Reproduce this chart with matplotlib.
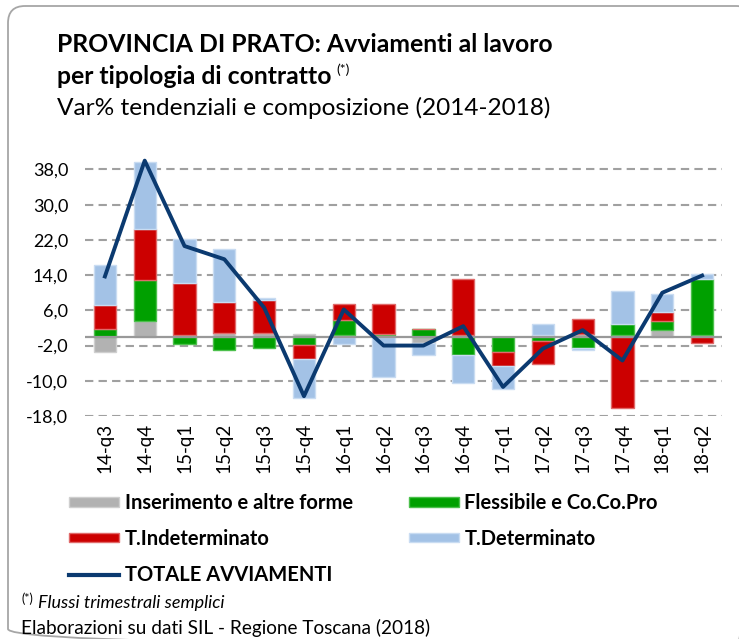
import matplotlib
matplotlib.use("Agg")
import matplotlib.pyplot as plt
import numpy as np
from matplotlib.patches import Patch, FancyBboxPatch
from matplotlib.lines import Line2D
from matplotlib.ticker import FuncFormatter

plt.rcParams["font.family"] = ["Lato", "DejaVu Sans"]

# quarters
trimestri = ["14-q3", "14-q4", "15-q1", "15-q2", "15-q3", "15-q4", "16-q1", "16-q2",
             "16-q3", "16-q4", "17-q1", "17-q2", "17-q3", "17-q4", "18-q1", "18-q2"]

# contributions to the yearly change, by contract type
inserimento = [-3.4, 3.5, 0.4, 0.9, 0.9, 0.6, 0.3, 0.4, -1.5, 0.3, 0.0, 0.3, 0.7, 0.3, 1.5, 0.3]
flessibile = [1.8, 9.3, -1.6, -3.1, -2.6, -1.9, 3.4, 0.3, 1.8, -4.2, -3.5, -0.9, -2.6, 2.7, 2.1, 12.9]
indeterminato = [5.4, 11.6, 11.8, 7.0, 7.4, -3.1, 3.8, 6.8, 0.0, 12.9, -3.2, -5.2, 3.4, -16.2, 2.0, -1.4]
determinato = [9.0, 15.4, 10.1, 12.1, 0.6, -8.9, -1.6, -9.1, -2.7, -6.3, -5.1, 2.5, -0.4, 7.5, 4.0, 1.0]
totale = [13.7, 40.0, 20.6, 17.6, 6.6, -13.5, 6.2, -2.0, -2.0, 2.4, -11.4, -2.7, 1.5, -5.4, 10.0, 13.9]

serie = [
    ("Inserimento e altre forme", inserimento, "#b2b2b2", "#cfcfcf"),
    ("Flessibile e Co.Co.Pro", flessibile, "#00a000", "#4cc04c"),
    ("T.Indeterminato", indeterminato, "#cc0000", "#e06a6a"),
    ("T.Determinato", determinato, "#a3c2e6", "#c9dcf2"),
]
col_linea = "#0b3a70"

W, H = 739, 639
fig = plt.figure(figsize=(W / 100, H / 100), dpi=100)

# background layer in pixel units, for the rounded frame
bg = fig.add_axes([0, 0, 1, 1], zorder=-1)
bg.set_xlim(0, W)
bg.set_ylim(H, 0)
bg.axis("off")
bg.add_patch(FancyBboxPatch((8, 6), 745, 640, boxstyle="round,pad=0,rounding_size=17",
                            fill=False, edgecolor="#a6a6a6", linewidth=1.3))

ax = fig.add_axes([85 / W, 1 - 416 / H, 637 / W, (416 - 158) / H])

x = np.arange(len(trimestri))
pos_base = np.zeros(len(x))
neg_base = np.zeros(len(x))
for nome, valori, col, bordo in serie:
    v = np.array(valori)
    base = np.where(v >= 0, pos_base, neg_base)
    ax.bar(x, v, width=0.56, bottom=base, color=col, edgecolor=bordo,
           linewidth=1.0, zorder=2)
    pos_base += np.where(v >= 0, v, 0)
    neg_base += np.where(v < 0, v, 0)

ax.plot(x, totale, color=col_linea, linewidth=2.8, zorder=4)

ax.set_xlim(-0.5, len(x) - 0.5)
ax.set_ylim(-18, 40.6)
ax.set_yticks(np.arange(-18, 39, 8))
ax.yaxis.set_major_formatter(FuncFormatter(lambda v, p: f"{v:.1f}".replace(".", ",")))
ax.yaxis.grid(True, linestyle=(0, (4, 2.5)), color="#a0a0a0", linewidth=1.5, zorder=0)
ax.set_axisbelow(True)
ax.axhline(0, color="#999999", linewidth=1.6, zorder=3)

ax.set_xticks(x)
ax.set_xticklabels(trimestri, rotation=90, fontsize=13.5)
ax.tick_params(axis="y", labelsize=13, length=0, pad=12)
ax.tick_params(axis="x", length=0, pad=5)
for s in ax.spines.values():
    s.set_visible(False)

# titles
fig.text(57 / W, 1 - 44 / H, "PROVINCIA DI PRATO: Avviamenti al lavoro",
         fontsize=17.8, fontweight="bold", va="center", ha="left")
t2 = fig.text(57 / W, 1 - 76 / H, "per tipologia di contratto",
              fontsize=17.8, fontweight="bold", va="center", ha="left")
fig.canvas.draw()
fine = t2.get_window_extent().x1
fig.text((fine + 5) / W, 1 - 70 / H, "(*)", fontsize=10, va="center", ha="left")
fig.text(57 / W, 1 - 108 / H, "Var% tendenziali e composizione (2014-2018)",
         fontsize=17.6, va="center", ha="left")

# legend, two columns filled row by row
h = [Patch(facecolor=c, edgecolor=b, linewidth=1.0) for _, _, c, b in serie]
h_linea = Line2D([], [], color=col_linea, linewidth=3)
handles = [h[0], h[2], h_linea, h[1], h[3]]
labels = [serie[0][0], serie[2][0], "TOTALE AVVIAMENTI", serie[1][0], serie[3][0]]
fig.legend(handles, labels, loc="upper left", bbox_to_anchor=(51 / W, 1 - 475 / H),
           ncol=2, frameon=False, handlelength=2.5, handleheight=0.35,
           handletextpad=0.25, columnspacing=2.8, labelspacing=0.78,
           prop={"size": 14.5, "weight": "bold"})

# notes
fig.text(21 / W, 1 - 599 / H, "(*)", fontsize=9, va="center", ha="left")
fig.text(38 / W, 1 - 603 / H, "Flussi trimestrali semplici", fontsize=13,
         style="italic", va="center", ha="left")
fig.text(21 / W, 1 - 628 / H, "Elaborazioni su dati SIL - Regione Toscana (2018)",
         fontsize=13.7, va="center", ha="left")

fig.savefig("out.png", dpi=100)
